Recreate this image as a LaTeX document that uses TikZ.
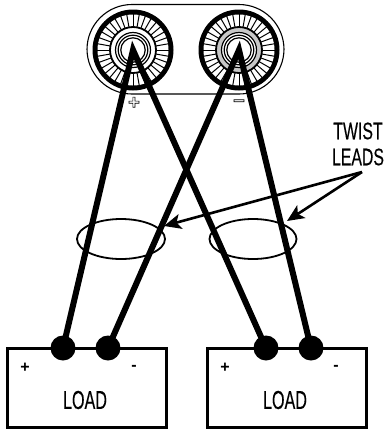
\documentclass[tikz,border=0pt]{standalone}
\usepackage{fontspec}
\setmainfont{Liberation Sans}
\newfontfamily\narrowfont[FakeStretch=0.62,FakeBold=0.25]{Liberation Sans}
\newfontfamily\twistfont[FakeStretch=0.66,FakeBold=0.25]{Liberation Sans}
\usetikzlibrary{arrows.meta}
\newcommand{\outlined}[1]{\special{pdf:code 1 1 1 rg 0 0 0 RG 2 Tr 0.7 w}#1\special{pdf:code 0 0 0 rg 0 Tr 1 w}}
\tikzset{
  wire/.style={line width=6pt,line join=miter,miter limit=10},
  dot/.style={circle,fill=black,minimum size=25pt,inner sep=0pt},
  loadbox/.style={draw=black,line width=3pt,minimum width=159pt,minimum height=79pt,inner sep=0pt,fill=white},
  biglabel/.style={font=\narrowfont\fontsize{26}{26}\selectfont,inner sep=0pt},
  twistlabel/.style={font=\twistfont\fontsize{24}{24}\selectfont,inner sep=0pt},
  smalllabel/.style={font=\bfseries\fontsize{16}{16}\selectfont,inner sep=0pt},
  panelmark/.style={font=\bfseries\fontsize{20}{20}\selectfont,inner sep=0pt},
  pointer/.style={line width=2.6pt,-{Stealth[length=17pt,width=15pt,inset=4pt]}},
}
\newcommand{\terminal}[3]{%
  \fill[black] (#1,#2) circle (40.5);
  \fill[white] (#1,#2) circle (35.5);
  \foreach \a in {0,10,...,350}
    \draw[black,line width=1pt] (#1,#2) ++(\a:23) -- ++(\a:13);
  \draw[black,line width=1.8pt,fill=#3] (#1,#2) circle (23);
  \draw[black,line width=1.2pt,fill=white] (#1,#2) circle (17.5);
  \draw[black,line width=1.2pt] (#1,#2) circle (14.8);
  \draw[black,line width=1.2pt] (#1,#2) circle (12.2);
}
\begin{document}
\begin{tikzpicture}[x=1pt,y=-1pt]
\useasboundingbox (0,0) rectangle (390,429);
\draw[black,line width=1.1pt,rounded corners=45pt] (87,4.5) rectangle (284,94);
\terminal{133}{50}{white}
\terminal{239}{50}{black!22}
\coordinate (termL) at (133,50);
\coordinate (termR) at (239,50);
\node[panelmark] (plusmark) at (134,103) {\outlined{+}};
\node[panelmark] (minusmark) at (239,103) {\outlined{–}};
% loads
\node[loadbox] (loadA) at (86.5,387.5) {};
\node[loadbox] (loadB) at (286.5,387.5) {};
\node[biglabel] (loadAtext) at (85,400) {LOAD};
\node[biglabel] (loadBtext) at (285,400) {LOAD};
\node[smalllabel] (pa) at (25,368) {+};
\node[smalllabel] (ma) at (134,368) {-};
\node[smalllabel] (pb) at (225,368) {+};
\node[smalllabel] (mb) at (336,368) {-};
\node[dot] (d1) at (63,348) {};
\node[dot] (d2) at (108,348) {};
\node[dot] (d3) at (266,348) {};
\node[dot] (d4) at (311,348) {};
% wires
\draw[wire] (d1.center) -- (termL) -- (d3.center);
\draw[wire] (d2.center) -- (termR) -- (d4.center);
% twist ellipses
\draw[black,line width=1.8pt] (121,239) ellipse (44 and 20);
\draw[black,line width=1.8pt] (253,239) ellipse (43.5 and 20);
% label and pointers
\node[twistlabel] (tw) at (358,131) {TWIST};
\node[twistlabel] (ld) at (358,157) {LEADS};
\coordinate (src) at (362,172);
\coordinate (tipA) at (164,226);
\coordinate (tipB) at (287,221);
\draw[pointer] (src) -- (tipA);
\draw[pointer] (src) -- (tipB);
\end{tikzpicture}
\end{document}
